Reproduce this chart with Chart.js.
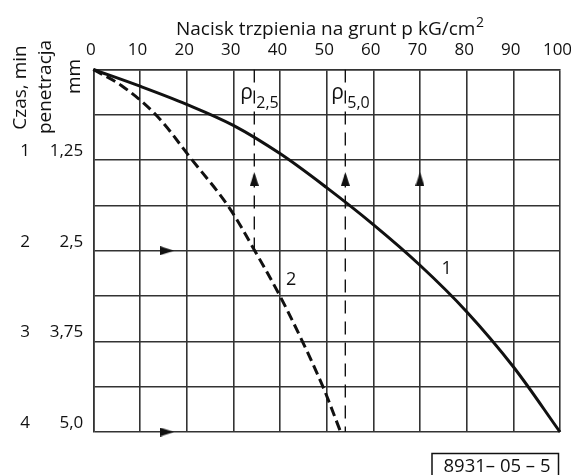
<!DOCTYPE html>
<html lang="pl">
<head>
<meta charset="utf-8">
<title>Nacisk trzpienia na grunt</title>
<script src="https://cdn.jsdelivr.net/npm/chart.js@4.4.1/dist/chart.umd.min.js"></script>
<style>
  html, body { margin: 0; padding: 0; background: #fff; }
  #wrap { width: 571px; height: 475px; position: relative; }
</style>
</head>
<body>
<div id="wrap"><canvas id="wykres"></canvas></div>
<script>
// krzywa 1 (ciągła): nacisk p [kG/cm2] -> penetracja [mm]
const nacisk1 = [0, 10, 20, 30, 40, 50, 60, 70, 80, 90, 100];
const penetracja1 = [0, 0.23, 0.48, 0.77, 1.16, 1.63, 2.14, 2.7, 3.34, 4.1, 5.0];

// krzywa 2 (przerywana)
const nacisk2 = [0, 6, 13.4, 21.2, 28.8, 34.6, 40, 44.8, 49.2, 53];
const penetracja2 = [0, 0.22, 0.625, 1.25, 1.875, 2.5, 3.125, 3.75, 4.375, 5.0];

// linie pomocnicze p2,5 i p5,0
const rho25 = 34.5;
const rho50 = 54;

// strzałki
const strzalkiPionoweP = [34.5, 54, 70];
const strzalkiPionoweH = 1.51;
const strzalkiPoziomeP = 15.8;
const strzalkiPoziomeH = [2.5, 5.0];

// opisy osi pionowych
const etykietyPenetracja = ["1,25", "2,5", "3,75", "5,0"];
const etykietyCzas = ["1", "2", "3", "4"];

const czarny = "#111";
const siatka = "#333";
const FONT = "'Open Sans', 'DejaVu Sans', sans-serif";

Chart.defaults.font.family = FONT;
Chart.defaults.color = czarny;

function punkty(xs, ys) {
  return xs.map((x, i) => ({ x, y: ys[i] }));
}

// grot strzałki jako mały canvas (pointStyle)
function grot() {
  const c = document.createElement("canvas");
  c.width = 9;
  c.height = 14;
  const g = c.getContext("2d");
  g.fillStyle = czarny;
  g.beginPath();
  g.moveTo(4.5, 0);
  g.lineTo(9, 14);
  g.lineTo(0, 14);
  g.closePath();
  g.fill();
  return c;
}
const grotStrzalki = grot();

function pionowo(ctx, tekst, x, y, size) {
  ctx.save();
  ctx.translate(x, y);
  ctx.rotate(-Math.PI / 2);
  ctx.font = `${size}px ${FONT}`;
  ctx.textAlign = "center";
  ctx.textBaseline = "alphabetic";
  ctx.fillText(tekst, 0, 0);
  ctx.restore();
}

// napisy dodatkowe: tytuły, p2,5 / p5,0, numery krzywych, sygnatura
const opisy = {
  id: "opisy",
  afterDraw(chart) {
    const { ctx, chartArea } = chart;
    const x = chart.scales.x;
    const y = chart.scales.y;
    ctx.save();
    ctx.fillStyle = czarny;

    // tytuł osi poziomej z wykładnikiem
    const tytul = "Nacisk trzpienia na grunt p kG/cm";
    ctx.font = `19px ${FONT}`;
    const wT = ctx.measureText(tytul).width;
    ctx.font = `14px ${FONT}`;
    const wS = ctx.measureText("2").width;
    const tx = (chartArea.left + chartArea.right) / 2 + 3 - (wT + wS) / 2;
    ctx.textAlign = "left";
    ctx.textBaseline = "alphabetic";
    ctx.font = `19px ${FONT}`;
    ctx.fillText(tytul, tx, 35);
    ctx.font = `14px ${FONT}`;
    ctx.fillText("2", tx + wT + 0.5, 27);

    pionowo(ctx, "Czas, min", 26, 87.5, 19);
    pionowo(ctx, "penetracja", 51, 87, 19);
    pionowo(ctx, "mm", 80, 76.5, 19);

    // p z indeksem przy liniach pomocniczych
    [[rho25, "2,5"], [rho50, "5,0"]].forEach(([p, ind]) => {
      const px = x.getPixelForValue(p);
      ctx.font = `21px ${FONT}`;
      ctx.textAlign = "right";
      ctx.fillText("ρ", px - 1.5, y.getPixelForValue(0.41));
      ctx.font = `16px ${FONT}`;
      ctx.textAlign = "left";
      ctx.fillText(ind, px + 2, y.getPixelForValue(0.525));
    });

    // numery krzywych
    ctx.font = `18px ${FONT}`;
    ctx.textAlign = "center";
    ctx.textBaseline = "middle";
    ctx.fillText("1", x.getPixelForValue(75.7), y.getPixelForValue(2.75));
    ctx.fillText("2", x.getPixelForValue(42.4), y.getPixelForValue(2.9));

    // sygnatura w ramce
    const bx = chartArea.right - 128;
    const by = chartArea.bottom + 21.5;
    ctx.strokeStyle = czarny;
    ctx.lineWidth = 1.5;
    ctx.strokeRect(bx, by, 126.5, 40);
    ctx.font = `18.5px ${FONT}`;
    ctx.fillText("8931– 05 – 5", bx + 65, by + 13);
    ctx.restore();
  },
};

const ctx = document.getElementById("wykres").getContext("2d");
new Chart(ctx, {
  type: "scatter",
  data: {
    datasets: [
      {
        label: "1",
        data: punkty(nacisk1, penetracja1),
        showLine: true,
        borderColor: czarny,
        borderWidth: 3,
        pointRadius: 0,
        tension: 0.35,
        clip: false,
      },
      {
        label: "2",
        data: punkty(nacisk2, penetracja2),
        showLine: true,
        borderColor: czarny,
        borderWidth: 3,
        borderDash: [10, 5],
        pointRadius: 0,
        tension: 0.35,
        clip: false,
      },
      {
        label: "p2,5",
        data: [{ x: rho25, y: 0 }, { x: rho25, y: 2.5 }],
        showLine: true,
        borderColor: czarny,
        borderWidth: 1.4,
        borderDash: [13, 8],
        pointRadius: 0,
      },
      {
        label: "p5,0",
        data: [{ x: rho50, y: 0 }, { x: rho50, y: 5 }],
        showLine: true,
        borderColor: czarny,
        borderWidth: 1.4,
        borderDash: [13, 8],
        pointRadius: 0,
      },
      {
        label: "strzałki pionowe",
        data: strzalkiPionoweP.map((p) => ({ x: p, y: strzalkiPionoweH })),
        pointStyle: grotStrzalki,
        pointRadius: 5,
        rotation: 0,
        clip: false,
      },
      {
        label: "strzałki poziome",
        data: strzalkiPoziomeH.map((h) => ({ x: strzalkiPoziomeP, y: h })),
        pointStyle: grotStrzalki,
        pointRadius: 5,
        rotation: 90,
        clip: false,
      },
    ],
  },
  options: {
    responsive: true,
    maintainAspectRatio: false,
    animation: false,
    layout: { padding: { left: 0, right: 11, top: 0, bottom: 43 } },
    plugins: {
      legend: { display: false },
      tooltip: { enabled: false },
    },
    scales: {
      x: {
        type: "linear",
        position: "top",
        min: 0,
        max: 100,
        ticks: {
          stepSize: 10,
          padding: 9,
          labelOffset: -2.5,
          color: czarny,
          font: { size: 17 },
        },
        grid: { color: siatka, lineWidth: 1.6, drawTicks: false },
        border: { color: siatka, width: 1.6 },
        afterFit: (s) => {
          s.height = 69.5;
          // etykieta "100" może wystawać poza obszar wykresu
          s.paddingLeft = 0;
          s.paddingRight = 0;
        },
      },
      y: {
        type: "linear",
        position: "left",
        reverse: true,
        min: 0,
        max: 5,
        ticks: {
          stepSize: 0.625,
          padding: 10,
          labelOffset: -9,
          color: czarny,
          font: { size: 17 },
          callback: (v) => {
            const k = Math.round(v / 0.625);
            return k > 0 && k % 2 === 0 ? etykietyPenetracja[k / 2 - 1] : "";
          },
        },
        grid: { color: siatka, lineWidth: 1.6, drawTicks: false },
        border: { color: siatka, width: 1.6 },
        afterFit: (s) => {
          s.width = 61.3;
        },
      },
      yCzas: {
        type: "linear",
        position: "left",
        reverse: true,
        weight: 1,
        min: 0,
        max: 4,
        ticks: {
          stepSize: 1,
          padding: 2,
          labelOffset: -9,
          color: czarny,
          font: { size: 17 },
          callback: (v) => (v > 0 ? etykietyCzas[Math.round(v) - 1] : ""),
        },
        grid: { display: false, drawTicks: false },
        border: { display: false },
        afterFit: (s) => {
          s.width = 32;
        },
      },
    },
  },
  plugins: [opisy],
});
</script>
</body>
</html>
